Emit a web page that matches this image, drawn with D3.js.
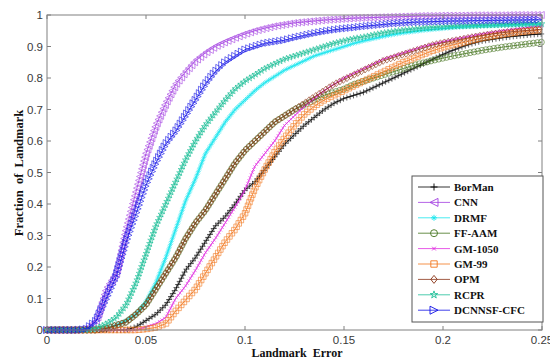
<!DOCTYPE html>
<html><head><meta charset="utf-8">
<script src="https://cdn.jsdelivr.net/npm/d3@7"></script>
<style>
html,body{margin:0;padding:0;background:#fff;}
svg{display:block;}
</style></head>
<body>
<svg id="chart" width="550" height="358"></svg>
<script>
// ---- data (x step 0.005 from 0 to 0.25) ----
const xValues = d3.range(0, 51).map(i => +(i * 0.005).toFixed(3));
const xTicks = [0, 0.05, 0.1, 0.15, 0.2, 0.25];
const xTickLabels = ["0", "0.05", "0.1", "0.15", "0.2", "0.25"];
const yTicks = [0, 0.1, 0.2, 0.3, 0.4, 0.5, 0.6, 0.7, 0.8, 0.9, 1];
const yTickLabels = ["0", "0.1", "0.2", "0.3", "0.4", "0.5", "0.6", "0.7", "0.8", "0.9", "1"];
const seriesNames = ["BorMan", "CNN", "DRMF", "FF-AAM", "GM-1050", "GM-99", "OPM", "RCPR", "DCNNSF-CFC"];

const borman = [0,0,0,0,0,0,0,0,0,0.01,0.03,0.05,0.08,0.13,0.19,0.23,0.28,0.33,0.36,0.40,0.445,0.47,0.51,0.55,0.59,0.62,0.65,0.675,0.70,0.72,0.735,0.745,0.755,0.77,0.785,0.80,0.815,0.83,0.845,0.86,0.875,0.888,0.90,0.91,0.918,0.923,0.928,0.932,0.935,0.938,0.94];
const cnn = [0,0,0,0,0.003,0.03,0.13,0.18,0.32,0.44,0.56,0.65,0.72,0.78,0.82,0.855,0.88,0.90,0.915,0.928,0.94,0.95,0.958,0.965,0.97,0.975,0.978,0.981,0.984,0.986,0.988,0.99,0.991,0.992,0.993,0.994,0.995,0.996,0.997,0.997,0.998,0.998,0.998,0.999,0.999,0.999,0.999,1,1,1,1];
const drmf = [0,0,0,0,0,0,0.005,0.015,0.03,0.05,0.09,0.15,0.23,0.32,0.41,0.48,0.56,0.61,0.66,0.70,0.73,0.76,0.785,0.805,0.825,0.84,0.855,0.87,0.88,0.89,0.90,0.91,0.918,0.925,0.932,0.938,0.943,0.947,0.951,0.954,0.957,0.96,0.962,0.964,0.965,0.966,0.967,0.968,0.969,0.97,0.97];
const ffaam = [0,0,0,0,0,0,0.005,0.015,0.025,0.05,0.08,0.13,0.18,0.23,0.29,0.34,0.38,0.43,0.48,0.53,0.57,0.60,0.63,0.66,0.68,0.70,0.715,0.73,0.745,0.755,0.765,0.78,0.79,0.80,0.81,0.82,0.83,0.84,0.848,0.856,0.863,0.87,0.876,0.882,0.888,0.893,0.898,0.902,0.906,0.91,0.914];
const gm1050 = [0,0,0,0,0,0,0,0,0,0,0.01,0.02,0.04,0.10,0.14,0.19,0.245,0.29,0.34,0.39,0.445,0.52,0.56,0.60,0.65,0.68,0.71,0.735,0.76,0.78,0.80,0.815,0.83,0.845,0.86,0.87,0.88,0.89,0.90,0.908,0.915,0.922,0.928,0.934,0.94,0.945,0.95,0.954,0.958,0.962,0.965];
const gm99 = [0,0,0,0,0,0,0,0,0,0,0.003,0.008,0.02,0.06,0.095,0.13,0.18,0.23,0.28,0.32,0.37,0.45,0.51,0.565,0.61,0.65,0.685,0.71,0.73,0.745,0.76,0.775,0.79,0.805,0.82,0.835,0.85,0.862,0.875,0.887,0.897,0.905,0.912,0.92,0.927,0.933,0.938,0.943,0.947,0.95,0.953];
const opm = [0,0,0,0,0,0,0.005,0.015,0.025,0.05,0.08,0.13,0.18,0.23,0.29,0.34,0.38,0.43,0.48,0.53,0.57,0.60,0.63,0.66,0.68,0.70,0.72,0.74,0.76,0.78,0.795,0.81,0.825,0.84,0.855,0.865,0.875,0.885,0.895,0.905,0.912,0.918,0.924,0.93,0.935,0.94,0.944,0.947,0.95,0.952,0.955];
const rcpr = [0,0,0,0,0,0.005,0.02,0.04,0.08,0.15,0.24,0.33,0.40,0.47,0.54,0.60,0.65,0.69,0.73,0.765,0.79,0.81,0.83,0.845,0.86,0.87,0.88,0.89,0.90,0.91,0.918,0.925,0.93,0.937,0.943,0.948,0.952,0.955,0.958,0.96,0.962,0.964,0.965,0.966,0.967,0.968,0.969,0.97,0.971,0.972,0.972];
const dcnnsf = [0,0,0,0,0.003,0.03,0.10,0.17,0.28,0.37,0.46,0.53,0.59,0.63,0.68,0.73,0.78,0.82,0.85,0.87,0.89,0.90,0.91,0.915,0.92,0.928,0.935,0.942,0.948,0.953,0.957,0.96,0.964,0.967,0.97,0.973,0.975,0.977,0.978,0.979,0.98,0.981,0.981,0.982,0.982,0.983,0.983,0.984,0.984,0.985,0.985];

const seriesValues = [borman, cnn, drmf, ffaam, gm1050, gm99, opm, rcpr, dcnnsf];
const seriesColors = ["#000000", "#a23ee0", "#19e6ee", "#43731c", "#e02ee0", "#f2761c", "#8a3416", "#1fbf98", "#1010e6"];
const seriesMarkers = ["plus", "triLeft", "asterisk", "circle", "cross", "square", "diamond", "star", "triRight"];

// ---- layout ----
const svg = d3.select("#chart");
const x = d3.scaleLinear().domain([0, 0.25]).range([47, 542]);
const y = d3.scaleLinear().domain([0, 1]).range([330, 15]);

svg.append("defs").append("clipPath").attr("id", "clip")
  .append("rect").attr("x", x(0) - 4).attr("y", y(1) - 4)
  .attr("width", x(0.25) - x(0) + 8).attr("height", y(0) - y(1) + 8);

const axisColor = "#808080";
const tickTextColor = "#3a3a3a";

// markers
function markerPath(type, s) {
  const h = s / 2;
  switch (type) {
    case "plus": return `M${-h},0H${h}M0,${-h}V${h}`;
    case "cross": { const c = h * 0.75; return `M${-c},${-c}L${c},${c}M${-c},${c}L${c},${-c}`; }
    case "triLeft": return `M${-h},0L${h},${-h}L${h},${h}Z`;
    case "triRight": return `M${h},0L${-h},${-h}L${-h},${h}Z`;
    case "circle": return `M${h},0A${h},${h},0,1,1,${-h},0A${h},${h},0,1,1,${h},0Z`;
    case "square": { const q = h * 0.85; return `M${-q},${-q}H${q}V${q}H${-q}Z`; }
    case "diamond": return `M0,${-h}L${h * 0.8},0L0,${h}L${-h * 0.8},0Z`;
    case "asterisk": { const c = h * 0.7; return `M${-h},0H${h}M0,${-h}V${h}M${-c},${-c}L${c},${c}M${-c},${c}L${c},${-c}`; }
    case "star": return d3.symbol(d3.symbolStar, s * s * 0.35)();
  }
}
const markerSize = {plus: 6, cross: 4, triLeft: 7, triRight: 7, circle: 6, square: 6.5, diamond: 7, asterisk: 5, star: 6};
const markerSpacing = {plus: 3.5, cross: 3, triLeft: 4, triRight: 4, circle: 4, square: 4, diamond: 4, asterisk: 3, star: 3.5};

const line = d3.line().x((d, i) => x(xValues[i])).y(d => y(d));

const plot = svg.append("g").attr("clip-path", "url(#clip)");

seriesValues.forEach((vals, k) => {
  const g = plot.append("g");
  const p = g.append("path").attr("d", line(vals))
    .attr("fill", "none").attr("stroke", seriesColors[k]).attr("stroke-width", 0.8);
  const node = p.node();
  const len = node.getTotalLength();
  const type = seriesMarkers[k];
  const step = markerSpacing[type];
  const pts = [];
  for (let l = 0; l <= len; l += step) pts.push(node.getPointAtLength(l));
  g.selectAll("path.m").data(pts).join("path").attr("class", "m")
    .attr("transform", d => `translate(${d.x},${d.y})`)
    .attr("d", markerPath(type, markerSize[type]))
    .attr("fill", "none").attr("stroke", seriesColors[k]).attr("stroke-width", 0.7)
    .attr("stroke-opacity", 0.85);
});

// ---- axes box ----
const axes = svg.append("g");
axes.append("rect").attr("x", x(0)).attr("y", y(1))
  .attr("width", x(0.25) - x(0)).attr("height", y(0) - y(1))
  .attr("fill", "none").attr("stroke", axisColor).attr("stroke-width", 1);

const tl = 4;
xTicks.forEach((t, i) => {
  axes.append("line").attr("x1", x(t)).attr("x2", x(t)).attr("y1", y(0)).attr("y2", y(0) - tl).attr("stroke", axisColor);
  axes.append("line").attr("x1", x(t)).attr("x2", x(t)).attr("y1", y(1)).attr("y2", y(1) + tl).attr("stroke", axisColor);
  axes.append("text").attr("x", x(t)).attr("y", y(0) + 14).attr("text-anchor", "middle")
    .attr("font-family", "Liberation Sans, Arial, sans-serif").attr("font-size", 11.5)
    .attr("fill", tickTextColor).text(xTickLabels[i]);
});
yTicks.forEach((t, i) => {
  axes.append("line").attr("x1", x(0)).attr("x2", x(0) + tl).attr("y1", y(t)).attr("y2", y(t)).attr("stroke", axisColor);
  axes.append("line").attr("x1", x(0.25)).attr("x2", x(0.25) - tl).attr("y1", y(t)).attr("y2", y(t)).attr("stroke", axisColor);
  axes.append("text").attr("x", x(0) - 4).attr("y", y(t) + 4).attr("text-anchor", "end")
    .attr("font-family", "Liberation Sans, Arial, sans-serif").attr("font-size", 11.5)
    .attr("fill", tickTextColor).text(yTickLabels[i]);
});

// axis titles
svg.append("text").attr("x", 297).attr("y", 356.5).attr("text-anchor", "middle")
  .attr("font-family", "Liberation Serif, Times New Roman, serif").attr("font-weight", "bold")
  .attr("font-size", 12).attr("fill", "#111").style("white-space", "pre")
  .text("Landmark  Error");
svg.append("text").attr("transform", `translate(23,${173}) rotate(-90)`).attr("text-anchor", "middle")
  .attr("font-family", "Liberation Serif, Times New Roman, serif").attr("font-weight", "bold")
  .attr("font-size", 12.5).attr("fill", "#111").style("white-space", "pre")
  .text("Fraction  of  Landmark");

// ---- legend ----
const lg = svg.append("g");
const lx = 412, ly = 176, lw = 131, lh = 146;
lg.append("rect").attr("x", lx).attr("y", ly).attr("width", lw).attr("height", lh)
  .attr("fill", "#fff").attr("stroke", "#555").attr("stroke-width", 1);
seriesNames.forEach((name, k) => {
  const cy = ly + 11 + k * 15.4;
  lg.append("line").attr("x1", lx + 6).attr("x2", lx + 38).attr("y1", cy).attr("y2", cy)
    .attr("stroke", seriesColors[k]).attr("stroke-width", 0.8);
  const type = seriesMarkers[k];
  lg.append("path").attr("transform", `translate(${lx + 22},${cy})`)
    .attr("d", markerPath(type, markerSize[type] + 1))
    .attr("fill", "none").attr("stroke", seriesColors[k]).attr("stroke-width", 0.9);
  lg.append("text").attr("x", lx + 42).attr("y", cy + 4)
    .attr("font-family", "Liberation Serif, Times New Roman, serif").attr("font-weight", "bold")
    .attr("font-size", 11).attr("fill", "#111").text(name);
});
</script>
</body></html>
